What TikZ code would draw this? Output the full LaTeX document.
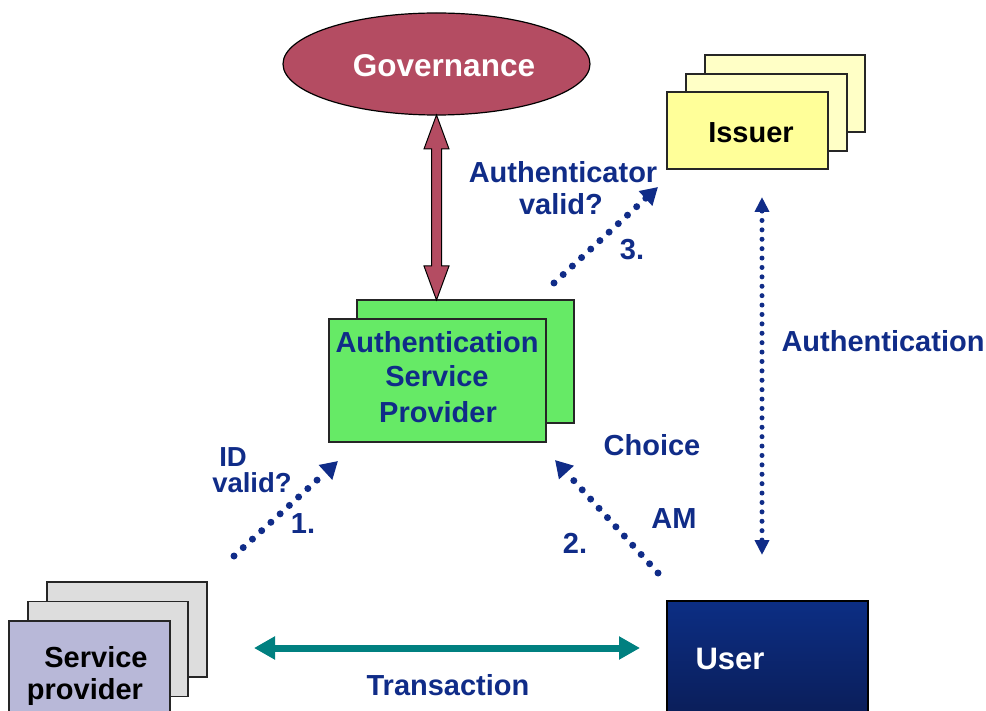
\documentclass[tikz,border=0pt]{standalone}
\usepackage{fontspec}
\setmainfont{Liberation Sans}
\usetikzlibrary{arrows.meta,shapes.geometric,calc}
\definecolor{govc}{HTML}{B44C62}
\definecolor{navyc}{HTML}{102C88}
\definecolor{aspc}{HTML}{66EA66}
\definecolor{issf}{HTML}{FFFF99}
\definecolor{issb}{HTML}{FFFFC6}
\definecolor{spf}{HTML}{B8B8D8}
\definecolor{spb}{HTML}{DDDDDD}
\definecolor{usert}{HTML}{0C2E84}
\definecolor{userb}{HTML}{0B1D57}
\definecolor{tealc}{HTML}{008080}
\begin{document}
\begin{tikzpicture}[x=1pt,y=-1pt,
  box/.style={draw=black!85, line width=1.1pt, inner sep=0pt, outer sep=0pt, rectangle},
  lbl/.style={inner sep=0pt, anchor=base, font=\fontsize{29}{34}\selectfont\bfseries, text=navyc},
  slbl/.style={lbl, font=\fontsize{27.5}{32}\selectfont\bfseries},
  blk/.style={lbl, text=black},
  wht/.style={lbl, text=white},
  dotarrow/.style={draw=navyc, line width=7pt, line cap=round, dash pattern=on 0pt off 12.5pt, -{Triangle[length=17pt,width=19pt]}},
  vdotarrow/.style={draw=navyc, line width=5pt, line cap=round, dash pattern=on 0pt off 9.4pt, {Triangle[length=15pt,width=14pt]}-{Triangle[length=15pt,width=14pt]}},
  tarrow/.style={draw=tealc, line width=7pt, {Triangle[length=21pt,width=22pt]}-{Triangle[length=21pt,width=22pt]}}
]
\useasboundingbox (0,0) rectangle (986,711);

% Governance
\node[ellipse, draw=black, line width=1.2pt, fill=govc, inner sep=0pt, outer sep=0pt,
      minimum width=307pt, minimum height=102pt] (gov) at (436.5,64) {};
\node[wht, font=\fontsize{31.5}{36}\selectfont\bfseries] (govt) at (444,77) {Governance};

% Issuer stack
\node[box, fill=issb, minimum width=160pt, minimum height=77pt] (iss3) at (785,93.5) {};
\node[box, fill=issb, minimum width=161pt, minimum height=77pt] (iss2) at (766.5,112.5) {};
\node[box, fill=issf, minimum width=161pt, minimum height=77pt] (iss) at (747.5,130.5) {};
\node[blk] (isst) at (751,143) {Issuer};

% ASP stack
\node[box, fill=aspc, minimum width=217pt, minimum height=123pt] (aspb) at (465.5,361.5) {};
\node[box, fill=aspc, minimum width=217pt, minimum height=123pt] (asp) at (437.5,380.5) {};
\node[lbl] (aspt1) at (437,353) {Authentication};
\node[lbl] (aspt2) at (437,387) {Service};
\node[lbl] (aspt3) at (438,422) {Provider};

% Governance double arrow
\coordinate (gt) at (gov.south);
\coordinate (gb) at (gov.south |- aspb.north);
\filldraw[fill=govc, draw=black, line width=1pt, line join=miter]
  (gt) -- ($(gt)+(12.5,34)$) -- ($(gt)+(5,34)$) -- ($(gb)+(5,-34)$) -- ($(gb)+(12.5,-34)$)
  -- (gb) -- ($(gb)+(-12.5,-34)$) -- ($(gb)+(-5,-34)$) -- ($(gt)+(-5,34)$) -- ($(gt)+(-12.5,34)$) -- cycle;

% Service provider stack
\node[box, fill=spb, minimum width=160pt, minimum height=95pt] (sp3) at (127,629.5) {};
\node[box, fill=spb, minimum width=160pt, minimum height=95pt] (sp2) at (108,649) {};
\node[box, fill=spf, minimum width=161pt, minimum height=95pt] (sp) at (89.5,668.5) {};
\node[blk] (spt1) at (96,667) {Service};
\node[blk] (spt2) at (85,699) {provider};

% User
\node[box, draw=black, top color=usert, bottom color=userb, minimum width=201pt, minimum height=120pt] (user) at (767.5,661) {};
\node[wht, font=\fontsize{31}{36}\selectfont\bfseries] (usert) at (730,669) {User};

% Arrow 1
\coordinate (a1s) at (234,556);
\coordinate (a1e) at (338,461);
\draw[dotarrow] (a1s) -- (a1e);
\node[slbl] (idt) at (233,466) {ID};
\node[slbl] (idv) at (252,492) {valid?};
\node[lbl] (n1) at (303,533) {1.};

% Arrow 2
\coordinate (a2s) at (658,573);
\coordinate (a2e) at (555,460);
\draw[dotarrow] (a2s) -- (a2e);
\node[lbl] (choice) at (652,455) {Choice};
\node[lbl] (am) at (674,528) {AM};
\node[lbl] (n2) at (575,553) {2.};

% Arrow 3
\coordinate (a3s) at (554,283);
\coordinate (a3e) at (658,187);
\draw[dotarrow] (a3s) -- (a3e);
\node[lbl] (autht) at (563,183) {Authenticator};
\node[lbl] (authv) at (561,215) {valid?};
\node[lbl] (n3) at (632,260) {3.};

% Authentication arrow
\coordinate (aus) at (762,197);
\coordinate (aue) at (762,555);
\draw[vdotarrow] (aus) -- (aue);
\node[lbl] (authl) at (883,352) {Authentication};

% Transaction arrow
\coordinate (ts) at (254,648);
\coordinate (te) at (640,648);
\draw[tarrow] (ts) -- (te);
\node[lbl] (trans) at (448,695) {Transaction};
\end{tikzpicture}
\end{document}
